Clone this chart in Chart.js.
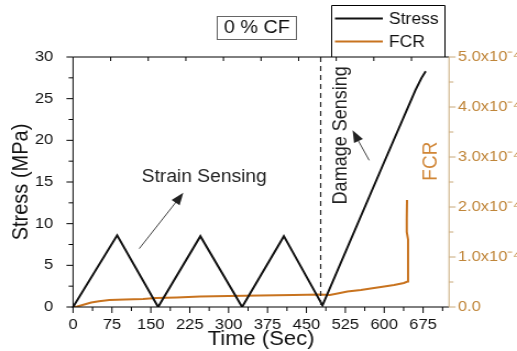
<!DOCTYPE html>
<html>
<head>
<meta charset="utf-8">
<script src="https://cdn.jsdelivr.net/npm/chart.js@4.4.1/dist/chart.umd.min.js"></script>
<style>
  html, body { margin: 0; padding: 0; background: #fff; }
</style>
</head>
<body>
<!-- the source figure is a little wider than tall, so the canvas is stretched -->
<canvas id="chart" width="470" height="351" style="display:block;width:517px;height:351px"></canvas>
<script>
// tick labels
const timeTicks = [0, 75, 150, 225, 300, 375, 450, 525, 600, 675];
const stressTicks = [0, 5, 10, 15, 20, 25, 30];
const fcrTicks = [0, 1, 2, 3, 4, 5]; // x10^-4

// stress (MPa) vs time (s)
const stressTime   = [0, 85, 164, 245.5, 326, 406.5, 481, 600, 660, 672, 680];
const stressValues = [0, 8.6, 0, 8.5, 0, 8.5, 0.2, 17.4, 26.0, 27.5, 28.3];

// FCR (in units of 10^-4) vs time (s)
const fcrTime   = [0, 8, 15, 25, 35, 50, 70, 100, 135, 160, 200, 245, 300, 360, 425, 477, 495, 510, 529, 555, 574, 600, 619, 638, 645, 646, 643.5, 643.5, 644];
const fcrValues = [0, 0.01, 0.03, 0.06, 0.09, 0.115, 0.14, 0.15, 0.16, 0.18, 0.19, 0.21, 0.22, 0.23, 0.24, 0.25, 0.24, 0.27, 0.31, 0.34, 0.37, 0.41, 0.44, 0.48, 0.51, 1.35, 1.5, 1.75, 2.14];

const dividerTime = 477.5;

const FONT = '"Liberation Sans", Arial, sans-serif';
const TAN = '#c8a878';
const FCR_LABEL = '#c0863a';

function toPoints(xs, ys) {
    return xs.map((x, i) => ({ x: x, y: ys[i] }));
}

function arrow(ctx, x0, y0, x1, y1) {
    const a = Math.atan2(y1 - y0, x1 - x0);
    const c = Math.cos(a), s = Math.sin(a);
    const len = 12, half = 4.5;
    ctx.beginPath();
    ctx.moveTo(x0, y0);
    ctx.lineTo(x1 - len * 0.8 * c, y1 - len * 0.8 * s);
    ctx.stroke();
    ctx.beginPath();
    ctx.moveTo(x1, y1);
    ctx.lineTo(x1 - len * c + half * s, y1 - len * s - half * c);
    ctx.lineTo(x1 - len * c - half * s, y1 - len * s + half * c);
    ctx.closePath();
    ctx.fill();
}

// axis lines, tick marks, annotations and the boxed legend
const decorations = {
    id: 'decorations',
    afterDatasetsDraw(chart) {
        const { ctx, chartArea: a, scales: { x, y, y1 } } = chart;
        ctx.save();

        // dashed line between strain and damage sensing
        const dx = x.getPixelForValue(dividerTime);
        ctx.strokeStyle = '#222';
        ctx.lineWidth = 1.2;
        ctx.setLineDash([5, 4]);
        ctx.beginPath();
        ctx.moveTo(dx, a.top);
        ctx.lineTo(dx, a.bottom);
        ctx.stroke();
        ctx.setLineDash([]);

        // frame
        ctx.lineWidth = 1;
        ctx.strokeStyle = '#000';
        ctx.beginPath();
        ctx.moveTo(a.left, a.bottom + 0.5);
        ctx.lineTo(a.left, a.top);
        ctx.lineTo(a.right, a.top);
        ctx.moveTo(a.left - 1, a.bottom);
        ctx.lineTo(a.right, a.bottom);
        ctx.stroke();
        ctx.strokeStyle = TAN;
        ctx.beginPath();
        ctx.moveTo(a.right, a.top);
        ctx.lineTo(a.right, a.bottom);
        ctx.stroke();

        // bottom ticks (major 75, minor 37.5)
        ctx.strokeStyle = '#000';
        ctx.beginPath();
        for (let v = 0; v <= x.max; v += 37.5) {
            const px = x.getPixelForValue(v);
            const len = v % 75 === 0 ? 6 : 4;
            ctx.moveTo(px, a.bottom);
            ctx.lineTo(px, a.bottom + len);
        }
        // top ticks, inward, at tenths of the axis
        for (let k = 1; k < 10; k++) {
            const px = x.getPixelForValue(x.max * k / 10);
            ctx.moveTo(px, a.top);
            ctx.lineTo(px, a.top + 4);
        }
        // left ticks
        for (let v = 0; v <= 30; v += 2.5) {
            const py = y.getPixelForValue(v);
            const len = v % 5 === 0 ? 6 : 4;
            ctx.moveTo(a.left, py);
            ctx.lineTo(a.left - len, py);
        }
        ctx.stroke();
        // right ticks
        ctx.strokeStyle = TAN;
        ctx.beginPath();
        for (let v = 0; v <= 5; v += 0.5) {
            const py = y1.getPixelForValue(v);
            const len = Number.isInteger(v) ? 6 : 4;
            ctx.moveTo(a.right, py);
            ctx.lineTo(a.right + len, py);
        }
        ctx.stroke();

        // annotations
        ctx.fillStyle = '#222';
        ctx.textAlign = 'center';
        ctx.textBaseline = 'middle';
        ctx.font = '17.5px ' + FONT;
        ctx.fillText('Strain Sensing', x.getPixelForValue(253), y.getPixelForValue(15.6));

        ctx.save();
        ctx.translate(x.getPixelForValue(516), y.getPixelForValue(20.6));
        ctx.rotate(-Math.PI / 2);
        ctx.font = '18px ' + FONT;
        ctx.fillText('Damage Sensing', 0, 0);
        ctx.restore();

        ctx.strokeStyle = '#444';
        ctx.fillStyle = '#222';
        ctx.lineWidth = 1;
        arrow(ctx, x.getPixelForValue(127.6), y.getPixelForValue(7.0),
                   x.getPixelForValue(212.6), y.getPixelForValue(13.7));
        arrow(ctx, x.getPixelForValue(571), y.getPixelForValue(17.6),
                   x.getPixelForValue(539), y.getPixelForValue(21.2));

        // right axis title sits inside the plot
        ctx.save();
        ctx.translate(x.getPixelForValue(690), y.getPixelForValue(17.5));
        ctx.rotate(-Math.PI / 2);
        ctx.fillStyle = '#d08535';
        ctx.font = '19px ' + FONT;
        ctx.fillText('FCR', 0, 0);
        ctx.restore();

        ctx.restore();
    },
    afterDraw(chart) {
        const { ctx, chartArea: a } = chart;
        ctx.save();
        ctx.lineWidth = 1;

        // "0 % CF" box
        ctx.strokeStyle = '#666';
        ctx.strokeRect(197.5, 16.5, 72, 23);
        ctx.fillStyle = '#111';
        ctx.font = '18px ' + FONT;
        ctx.textAlign = 'center';
        ctx.textBaseline = 'middle';
        ctx.fillText('0 % CF', 233.5, 28.5);

        // legend box
        ctx.strokeStyle = '#000';
        ctx.beginPath();
        ctx.moveTo(301.5, a.top);
        ctx.lineTo(301.5, 5.5);
        ctx.lineTo(404.5, 5.5);
        ctx.lineTo(404.5, a.top);
        ctx.stroke();
        ctx.textAlign = 'left';
        ctx.font = '16px ' + FONT;
        const rows = [18.5, 41.5];
        chart.data.datasets.forEach((ds, i) => {
            ctx.strokeStyle = ds.borderColor;
            ctx.lineWidth = 2;
            ctx.beginPath();
            ctx.moveTo(304.5, rows[i]);
            ctx.lineTo(348, rows[i]);
            ctx.stroke();
            ctx.fillStyle = '#111';
            ctx.fillText(ds.label, 353.5, rows[i] + 1);
        });
        ctx.restore();
    }
};

new Chart(document.getElementById('chart'), {
    type: 'line',
    data: {
        datasets: [
            {
                label: 'Stress',
                data: toPoints(stressTime, stressValues),
                borderColor: '#111',
                borderWidth: 2,
                pointRadius: 0,
                tension: 0,
                yAxisID: 'y'
            },
            {
                label: 'FCR',
                data: toPoints(fcrTime, fcrValues),
                borderColor: '#c8731f',
                borderWidth: 2,
                pointRadius: 0,
                tension: 0,
                yAxisID: 'y1'
            }
        ]
    },
    options: {
        responsive: false,
        animation: false,
        events: [],
        layout: { padding: { top: 57, left: 0, right: 0, bottom: 0 } },
        plugins: {
            legend: { display: false },
            tooltip: { enabled: false }
        },
        scales: {
            x: {
                type: 'linear',
                min: 0,
                max: 725,
                afterBuildTicks: s => { s.ticks = timeTicks.map(v => ({ value: v })); },
                afterFit: s => { s.height = 44; },
                grid: { display: false, drawTicks: false },
                border: { display: false },
                ticks: { color: '#111', font: { family: FONT, size: 15 }, padding: 9, maxRotation: 0, autoSkip: false },
                title: { display: true, text: 'Time (Sec)', color: '#111', font: { family: FONT, size: 20 }, padding: 0 }
            },
            y: {
                position: 'left',
                min: 0,
                max: 30,
                afterBuildTicks: s => { s.ticks = stressTicks.map(v => ({ value: v })); },
                afterFit: s => { s.width = 66.4; },
                grid: { display: false, drawTicks: false },
                border: { display: false },
                ticks: { color: '#111', font: { family: FONT, size: 15 }, padding: 18 },
                title: { display: true, text: 'Stress (MPa)', color: '#111', font: { family: FONT, size: 20 }, padding: { top: 7, bottom: 0 } }
            },
            y1: {
                position: 'right',
                min: 0,
                max: 5,
                afterBuildTicks: s => { s.ticks = fcrTicks.map(v => ({ value: v })); },
                afterFit: s => { s.width = 61.8; },
                grid: { display: false, drawTicks: false },
                border: { display: false },
                ticks: {
                    color: FCR_LABEL,
                    font: { family: FONT, size: 15 },
                    padding: 8,
                    callback: v => v === 0 ? '0.0' : v.toFixed(1) + 'x10\u207B\u2074'
                }
            }
        }
    },
    plugins: [decorations]
});
</script>
</body>
</html>
